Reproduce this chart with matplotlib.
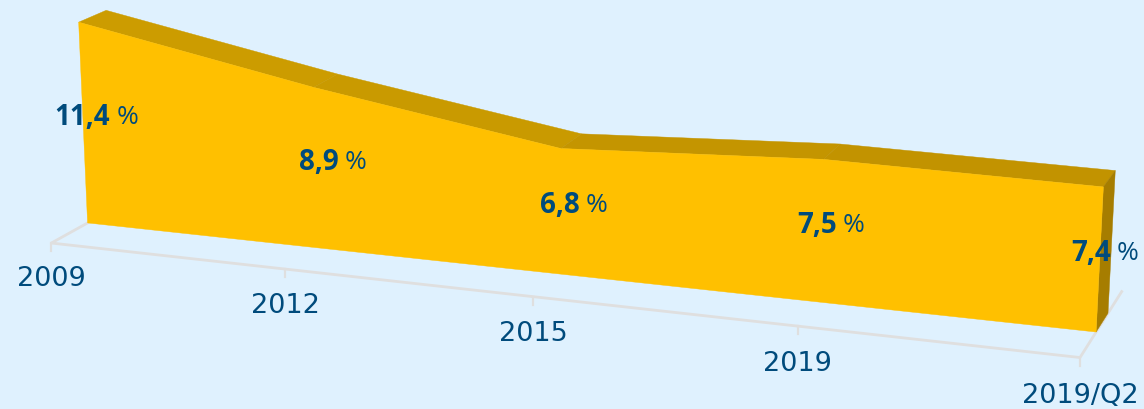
# Area 3D en perspectiva, dibujado a mano con una camara ajustada

import numpy as np
import matplotlib
matplotlib.use("Agg")
import matplotlib.pyplot as plt

plt.rcParams['font.family'] = ['Open Sans', 'DejaVu Sans']

categorias = ["2009", "2012", "2015", "2019", "2019/Q2"]
valores = [11.4, 8.9, 6.8, 7.5, 7.4]
etiquetas = ["11,4", "8,9", "6,8", "7,5", "7,4"]

fondo = "#DFF1FE"
amarillo = "#FFC000"
techo = ["#CC9C00", "#C99A00", "#C49500", "#C29300"]
lado = "#A67D00"
texto = "#004B7C"
gris = "#DFDFDF"

prof_frente = -1.3 # borde delantero del piso
prof_atras = 2.2 # borde trasero del piso

# Puntos de calibracion de la camara: (categoria, valor, profundidad) -> pixel
mundo = [(0, 0, 0), (4, 0, 0), (0, 11.4, 0), (4, 7.4, 0), (0, 11.4, 1), (4, 7.4, 1),
         (2, 6.8, 0), (2, 6.8, 1), (3, 7.5, 0), (3, 7.5, 1), (4, 0, 1),
         (0, 0, prof_frente), (4, 0, prof_frente), (4, 0, prof_atras)]
pixeles = [(87, 223), (1096, 332), (78, 21), (1103, 186), (107, 10), (1115, 170),
           (560, 148), (581, 134), (825, 159), (840, 144), (1108, 313),
           (52, 242), (1080, 357), (1122, 290)]

# Se resuelve la matriz de proyeccion por minimos cuadrados (DLT)
A = []
for (X, Y, Z), (u, v) in zip(mundo, pixeles):
	A.append([X, Y, Z, 1, 0, 0, 0, 0, -u*X, -u*Y, -u*Z, -u])
	A.append([0, 0, 0, 0, X, Y, Z, 1, -v*X, -v*Y, -v*Z, -v])
P = np.linalg.svd(np.array(A, dtype=float))[2][-1].reshape(3, 4)

def proy(t, val, d):
	h = P @ np.array([t, val, d, 1.0])
	return h[0]/h[2], h[1]/h[2]

fig = plt.figure(figsize=(11.44, 4.10), dpi=100, facecolor=fondo)
ax = fig.add_axes([0, 0, 1, 1])
ax.set_xlim(0, 1144)
ax.set_ylim(408.5, -1.5) # el ajuste queda un poco alto
ax.axis("off")

n = len(categorias)

# Piso
piso = [proy(n-1, 0, prof_atras), proy(n-1, 0, prof_frente), proy(0, 0, prof_frente), proy(0, 0, 0)]
ax.plot(*zip(*piso), color=gris, lw=2, solid_joinstyle="round", zorder=1)

# Marcas y nombres del eje
for i, c in enumerate(categorias):
	x, y = proy(i, 0, prof_frente)
	ax.plot([x, x], [y, y+8], color=gris, lw=1.6, zorder=1)
	ax.text(x, y+35+i*0.6, c, color=texto, fontsize=19.5, family="DejaVu Sans", ha="center", va="center", zorder=5)

# Cara superior
for i in range(n-1):
	q = [proy(i, valores[i], 0), proy(i+1, valores[i+1], 0), proy(i+1, valores[i+1], 1), proy(i, valores[i], 1)]
	ax.fill(*zip(*q), color=techo[i], lw=0.3, zorder=2)

# Cara lateral
q = [proy(n-1, 0, 0), proy(n-1, valores[-1], 0), proy(n-1, valores[-1], 1), proy(n-1, 0, 1)]
ax.fill(*zip(*q), color=lado, lw=0.3, zorder=2)

# Cara frontal
frente = [proy(i, valores[i], 0) for i in range(n)] + [proy(n-1, 0, 0), proy(0, 0, 0)]
ax.fill(*zip(*frente), color=amarillo, lw=0.3, zorder=3)

# Etiquetas de valor: numero en negrita y % normal
for i in range(n):
	x, y = proy(i, valores[i]/2.0, 0)
	x += 27-4*i
	y -= 7
	ax.text(x, y, etiquetas[i], color=texto, fontsize=20, fontweight="bold", ha="right", va="center", zorder=6)
	ax.text(x+6, y, "%", color=texto, fontsize=19, ha="left", va="center", zorder=6)

fig.savefig("out.png", dpi=100, facecolor=fondo)
